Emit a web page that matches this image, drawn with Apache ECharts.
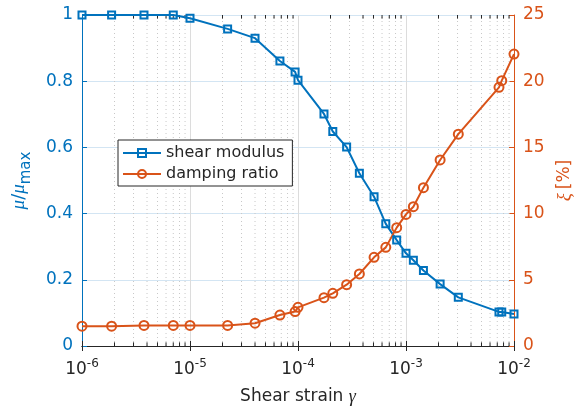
<!DOCTYPE html>
<html>
<head>
<meta charset="utf-8">
<script src="https://cdn.jsdelivr.net/npm/echarts@6/dist/echarts.min.js"></script>
<style>
  html, body { margin: 0; padding: 0; background: #fff; }
  #chart { width: 576px; height: 413px; }
</style>
</head>
<body>
<div id="chart"></div>
<script>
// 剪应变 (log scale)
var strain = [1e-6, 1.88e-6, 3.75e-6, 7e-6, 1e-5, 2.23e-5, 4e-5, 6.8e-5, 9.4e-5, 1e-4,
  1.74e-4, 2.1e-4, 2.82e-4, 3.7e-4, 5.06e-4, 6.5e-4, 8.2e-4, 1e-3, 1.17e-3, 1.45e-3,
  2.07e-3, 3.05e-3, 7.26e-3, 7.7e-3, 1e-2];
// 剪切模量比 mu/mu_max
var modulus = [1.0, 1.0, 1.0, 1.0, 0.99, 0.958, 0.93, 0.861, 0.828, 0.803,
  0.701, 0.648, 0.601, 0.522, 0.451, 0.369, 0.32, 0.28, 0.259, 0.228,
  0.187, 0.147, 0.103, 0.103, 0.097];
// 阻尼比 [%]
var damping = [1.5, 1.5, 1.55, 1.55, 1.55, 1.55, 1.72, 2.34, 2.6, 2.92,
  3.65, 3.98, 4.63, 5.44, 6.7, 7.45, 8.94, 9.94, 10.52, 11.96,
  14.05, 16.0, 19.54, 20.04, 22.05];
// 次网格线位置 (2..9 x 10^e)
var minorGrid = [];
[-6, -5, -4, -3].forEach(function (e) {
  for (var k = 2; k <= 9; k++) minorGrid.push(k * Math.pow(10, e));
});

var blue = '#0072BD';
var orange = '#D95319';
var fontFamily = 'DejaVu Sans';

function pairs(ys) {
  return strain.map(function (x, i) { return [x, ys[i]]; });
}

// 竖直虚线: 每条线两个端点, 中间用 '-' 断开
var minorData = [];
var minorTickData = [];
minorGrid.forEach(function (v) {
  minorData.push([v, 0], [v, 1], [v, '-']);
  minorTickData.push([v, 0], [v, 0.011], [v, '-'], [v, 0.989], [v, 1], [v, '-']);
});

var chart = echarts.init(document.getElementById('chart'));
chart.setOption({
  animation: false,
  textStyle: { fontFamily: fontFamily },
  grid: { left: 82, right: 62, top: 15, bottom: 67, outerBoundsMode: 'none', containLabel: false },
  legend: {
    orient: 'vertical',
    left: 118,
    top: 140,
    itemWidth: 38,
    itemHeight: 10,
    itemGap: 5,
    padding: [5, 8, 4, 4],
    backgroundColor: '#fff',
    borderColor: '#262626',
    borderWidth: 1,
    borderRadius: 0,
    textStyle: { color: '#262626', fontSize: 16, fontFamily: fontFamily },
    data: ['shear modulus', 'damping ratio']
  },
  xAxis: [
    {
      type: 'log',
      logBase: 10,
      min: 1e-6,
      max: 1e-2,
      splitNumber: 4,
      name: '{t|Shear strain }{g|γ}',
      nameLocation: 'middle',
      nameGap: 42,
      nameTextStyle: {
        rich: {
          t: { fontSize: 17, color: '#262626', fontFamily: fontFamily },
          g: { fontSize: 18, color: '#262626', fontStyle: 'italic', fontFamily: 'Liberation Serif' }
        }
      },
      axisLine: { lineStyle: { color: '#262626', width: 1 } },
      axisTick: { inside: true, length: 5, lineStyle: { color: '#262626' } },
      axisLabel: {
        margin: 12,
        formatter: function (v) {
          var e = Math.round(Math.log10(v));
          return '{b|10}{s|' + e + '}';
        },
        rich: {
          b: { fontSize: 17, color: '#262626', fontFamily: fontFamily },
          s: { fontSize: 12, color: '#262626', fontFamily: fontFamily, padding: [0, 0, 12, 0] }
        }
      },
      splitLine: { show: true, lineStyle: { color: '#dcdcdc', width: 1 } }
    },
    {
      type: 'log',
      logBase: 10,
      min: 1e-6,
      max: 1e-2,
      position: 'top',
      axisLine: { show: true, lineStyle: { color: '#262626', width: 1 } },
      axisTick: { show: true, inside: true, length: 5, lineStyle: { color: '#262626' } },
      axisLabel: { show: false },
      splitLine: { show: false }
    }
  ],
  yAxis: [
    {
      type: 'value',
      min: 0,
      max: 1,
      interval: 0.2,
      name: '{m|μ}{d|/}{m|μ}{x|max}',
      nameLocation: 'middle',
      nameRotate: 90,
      nameGap: 48,
      nameTextStyle: {
        rich: {
          m: { fontSize: 19, color: blue, fontStyle: 'italic', fontFamily: 'Liberation Serif', verticalAlign: 'bottom', padding: [0, 0, 6, 0] },
          d: { fontSize: 18, color: blue, fontFamily: fontFamily, verticalAlign: 'bottom', padding: [0, 0, 6, 0] },
          x: { fontSize: 15, color: blue, fontFamily: fontFamily, verticalAlign: 'bottom' }
        }
      },
      axisLine: { show: true, lineStyle: { color: blue, width: 1 } },
      axisTick: { show: true, inside: true, length: 5, lineStyle: { color: blue } },
      axisLabel: { color: blue, fontSize: 17, margin: 9, fontFamily: fontFamily },
      splitLine: { show: true, lineStyle: { color: '#d3e5f3', width: 1 } }
    },
    {
      type: 'value',
      min: 0,
      max: 25,
      interval: 5,
      position: 'right',
      name: '{g|ξ} {t|[%]}',
      nameLocation: 'middle',
      nameRotate: 90,
      nameGap: 40,
      nameTextStyle: {
        rich: {
          g: { fontSize: 19, color: orange, fontStyle: 'italic', fontFamily: 'Liberation Serif' },
          t: { fontSize: 17, color: orange, fontFamily: fontFamily }
        }
      },
      axisLine: { show: true, lineStyle: { color: orange, width: 1 } },
      axisTick: { show: true, inside: true, length: 5, lineStyle: { color: orange } },
      axisLabel: { color: orange, fontSize: 17, margin: 9, fontFamily: fontFamily },
      splitLine: { show: false }
    }
  ],
  series: [
    {
      // 次网格线
      name: 'minor',
      type: 'line',
      yAxisIndex: 0,
      data: minorData,
      connectNulls: false,
      showSymbol: false,
      symbol: 'none',
      z: 1,
      silent: true,
      lineStyle: { color: '#c8c8c8', type: [1, 3], width: 1 }
    },
    {
      // 次刻度
      name: 'minorTick',
      type: 'line',
      yAxisIndex: 0,
      data: minorTickData,
      connectNulls: false,
      showSymbol: false,
      symbol: 'none',
      z: 2,
      silent: true,
      lineStyle: { color: '#262626', width: 1 }
    },
    {
      name: 'shear modulus',
      type: 'line',
      yAxisIndex: 0,
      color: blue,
      symbol: 'rect',
      symbolSize: 7,
      z: 3,
      lineStyle: { color: blue, width: 2 },
      itemStyle: { color: 'transparent', borderColor: blue, borderWidth: 2 },
      data: pairs(modulus)
    },
    {
      name: 'damping ratio',
      type: 'line',
      yAxisIndex: 1,
      color: orange,
      symbol: 'circle',
      symbolSize: 9,
      z: 3,
      lineStyle: { color: orange, width: 2 },
      itemStyle: { color: 'transparent', borderColor: orange, borderWidth: 2 },
      data: pairs(damping)
    }
  ]
});
</script>
</body>
</html>
